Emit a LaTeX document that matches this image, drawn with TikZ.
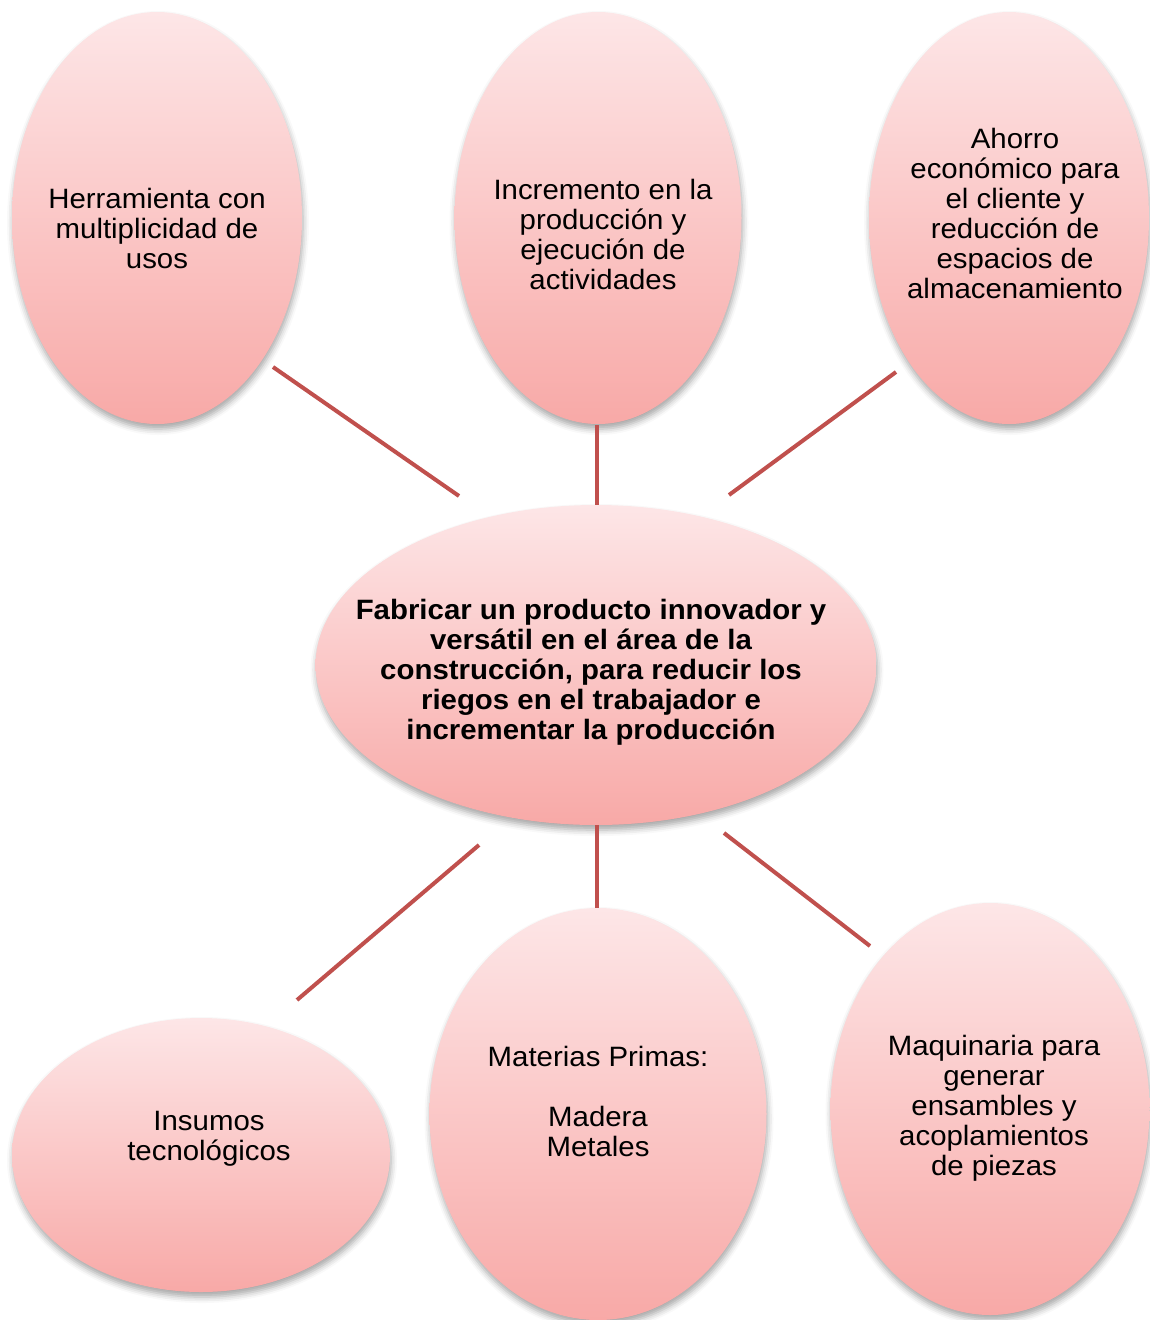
\documentclass[tikz,border=0pt]{standalone}
\usepackage{fontspec}
\setmainfont[FakeStretch=1.05]{Liberation Sans}
\usetikzlibrary{shapes.geometric,shadows.blur}
\definecolor{pinktop}{HTML}{FDE6E7}
\definecolor{pinkbot}{HTML}{F8A9A7}
\definecolor{linkred}{HTML}{C0504D}
\tikzset{
  bubble/.style={ellipse, inner sep=0pt, draw=none,
    top color=pinktop, bottom color=pinkbot,
    blur shadow={shadow xshift=1pt, shadow yshift=-5pt, shadow blur radius=6pt, shadow opacity=35}},
  lbl/.style={align=center, inner sep=0pt, font=\fontsize{28}{30}\selectfont},
  blbl/.style={lbl, font=\fontsize{28}{30}\selectfont\bfseries},
  link/.style={draw=linkred, line width=4pt}
}
\begin{document}
\begin{tikzpicture}[x=1pt,y=-1pt]
\useasboundingbox (0,0) rectangle (1149,1320);
% ellipses
\node[bubble, minimum width=290pt, minimum height=412pt] (tl) at (157,218) {};
\node[bubble, minimum width=287pt, minimum height=412pt] (tm) at (598,218) {};
\node[bubble, minimum width=280pt, minimum height=412pt] (tr) at (1009,218) {};
\node[bubble, minimum width=561pt, minimum height=320pt] (c) at (596,665) {};
\node[bubble, minimum width=378pt, minimum height=274pt] (bl) at (201,1155) {};
\node[bubble, minimum width=337pt, minimum height=412pt] (bm) at (598,1114) {};
\node[bubble, minimum width=319pt, minimum height=412pt] (br) at (990,1109) {};
% texts
\node[lbl] (tlt) at (157,228) {Herramienta con\\multiplicidad de\\usos};
\node[lbl] (tmt) at (603,234) {Incremento en la\\producción y\\ejecución de\\actividades};
\node[lbl] (trt) at (1015,213) {Ahorro\\económico para\\el cliente y\\reducción de\\espacios de\\almacenamiento};
\node[blbl] (ct) at (591,672) {Fabricar un producto innovador y\\versátil en el área de la\\construcción, para reducir los\\riegos en el trabajador e\\incrementar la producción};
\node[lbl] (blt) at (209,1139) {Insumos\\tecnológicos};
\node[lbl] (bmt) at (598,1101) {Materias Primas:\\[30pt]Madera\\Metales};
\node[lbl] (brt) at (994,1108) {Maquinaria para\\generar\\ensambles y\\acoplamientos\\de piezas};
% connector ends
\coordinate (a1) at (273,367); \coordinate (a2) at (459,496);
\coordinate (b1) at (597,425); \coordinate (b2) at (597,505);
\coordinate (c1) at (896,372); \coordinate (c2) at (729,495);
\coordinate (d1) at (479,845); \coordinate (d2) at (297,1000);
\coordinate (e1) at (597,825); \coordinate (e2) at (597,908);
\coordinate (f1) at (724,833); \coordinate (f2) at (870,946);
\draw[link] (a1) -- (a2);
\draw[link] (b1) -- (b2);
\draw[link] (c1) -- (c2);
\draw[link] (d1) -- (d2);
\draw[link] (e1) -- (e2);
\draw[link] (f1) -- (f2);
\end{tikzpicture}
\end{document}
